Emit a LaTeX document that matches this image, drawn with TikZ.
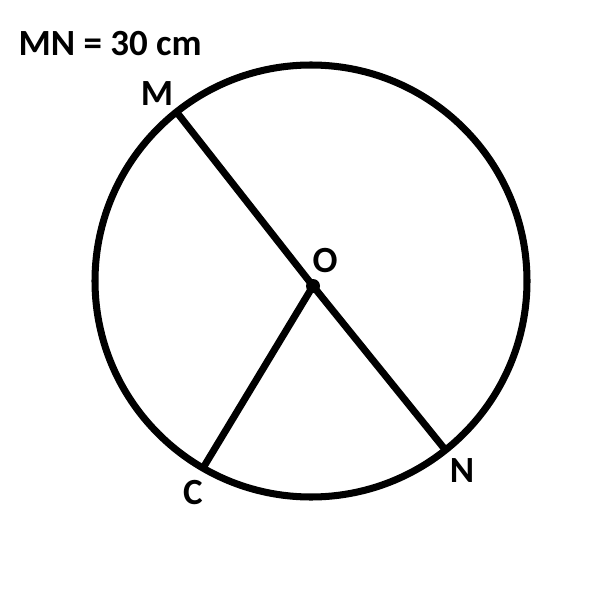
\documentclass[tikz,border=0pt]{standalone}
\usepackage{fontspec}
\setmainfont{Carlito}
\usetikzlibrary{calc}
\tikzset{
  lbl/.style={font=\bfseries\fontsize{10.5}{12}\selectfont, inner sep=0pt},
  thickline/.style={line width=2pt, draw=black}
}

\begin{document}
\begin{tikzpicture}[x=0.01cm, y=-0.01cm]
  \useasboundingbox (0,0) rectangle (600,600);
  \coordinate (ctr) at (311,281);
  \coordinate (O) at (313,286);
  \coordinate (M) at ($(ctr)+(-128.5:216)$);
  \coordinate (N) at ($(ctr)+(51.5:216)$);
  \coordinate (C) at ($(ctr)+(120:216)$);
  \draw[thickline] (ctr) circle[radius=216];
  \draw[thickline] (M) -- (O) -- (N);
  \draw[thickline] (O) -- (C);
  \fill (O) circle[radius=7];
  \node[lbl, anchor=west] (title) at (18,44) {MN = 30 cm};
  \node[lbl] (lM) at (157,94) {M};
  \node[lbl] (lO) at (325,261) {O};
  \node[lbl] (lN) at (462,471) {N};
  \node[lbl] (lC) at (193,493) {C};
\end{tikzpicture}
\end{document}
